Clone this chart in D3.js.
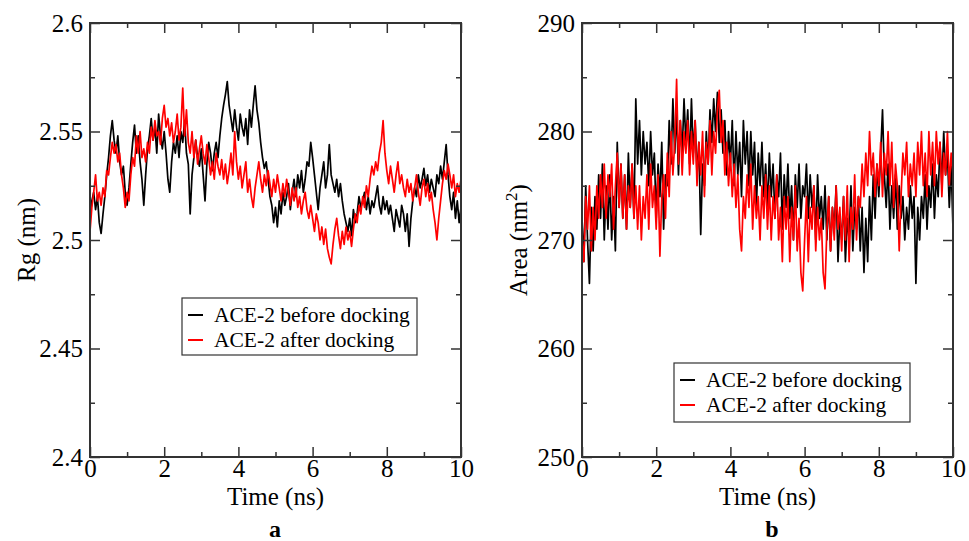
<!DOCTYPE html>
<html>
<head>
<meta charset="utf-8">
<script src="https://cdn.jsdelivr.net/npm/d3@7"></script>
<style>
  html, body { margin: 0; padding: 0; background: #fff; }
  svg { display: block; }
  text { font-family: "Liberation Serif", "Times New Roman", serif; fill: #000; }
</style>
</head>
<body>
<svg id="chart" width="969" height="541"></svg>
<script>
// ---- Data ----
const timeStep = 0.05; // ns between sampled frames
const xTicks = [0, 2, 4, 6, 8, 10];
const xMinorTicks = [1, 3, 5, 7, 9];
const rgTicks = [2.4, 2.45, 2.5, 2.55, 2.6];
const rgMinorTicks = [2.425, 2.475, 2.525, 2.575];
const areaTicks = [250, 260, 270, 280, 290];
const areaMinorTicks = [255, 265, 275, 285];
const legendLabels = ["ACE-2 before docking", "ACE-2 after docking"];
const seriesColors = ["#000000", "#ff0000"];

// Rg (nm), ACE-2 before docking
const rgBefore = [
 2.510,2.518,2.522,2.514,2.520,2.508,2.503,2.512,2.520,2.530,
 2.538,2.548,2.555,2.546,2.540,2.548,2.536,2.530,2.534,2.522,
 2.516,2.524,2.535,2.545,2.553,2.540,2.548,2.536,2.528,2.516,
 2.530,2.542,2.548,2.556,2.546,2.552,2.540,2.558,2.548,2.542,
 2.550,2.540,2.528,2.522,2.536,2.545,2.540,2.548,2.538,2.550,
 2.545,2.555,2.540,2.535,2.512,2.530,2.538,2.546,2.538,2.534,
 2.542,2.530,2.518,2.535,2.545,2.540,2.532,2.540,2.545,2.538,
 2.548,2.556,2.562,2.567,2.573,2.562,2.556,2.550,2.560,2.552,
 2.546,2.558,2.552,2.548,2.556,2.544,2.560,2.552,2.562,2.571,
 2.560,2.554,2.545,2.538,2.533,2.536,2.528,2.520,2.516,2.508,
 2.515,2.506,2.518,2.512,2.522,2.516,2.520,2.526,2.514,2.522,
 2.528,2.520,2.530,2.524,2.532,2.522,2.528,2.536,2.534,2.545,
 2.538,2.530,2.522,2.514,2.524,2.530,2.536,2.524,2.530,2.544,
 2.530,2.526,2.522,2.528,2.520,2.526,2.518,2.512,2.508,2.504,
 2.510,2.502,2.514,2.508,2.512,2.520,2.515,2.518,2.522,2.514,
 2.520,2.512,2.518,2.515,2.520,2.525,2.516,2.512,2.520,2.514,
 2.518,2.512,2.516,2.510,2.504,2.514,2.510,2.506,2.516,2.512,
 2.504,2.512,2.497,2.510,2.518,2.524,2.520,2.530,2.524,2.528,
 2.533,2.525,2.530,2.522,2.528,2.524,2.520,2.530,2.526,2.534,
 2.528,2.536,2.544,2.530,2.520,2.514,2.522,2.510,2.518,2.508,
 2.515
];
// Rg (nm), ACE-2 after docking
const rgAfter = [
 2.504,2.515,2.522,2.530,2.518,2.522,2.516,2.524,2.520,2.532,
 2.530,2.538,2.545,2.540,2.544,2.536,2.540,2.530,2.524,2.515,
 2.522,2.518,2.530,2.538,2.534,2.548,2.540,2.550,2.538,2.542,
 2.536,2.545,2.540,2.552,2.546,2.555,2.548,2.550,2.544,2.556,
 2.562,2.552,2.556,2.548,2.554,2.545,2.550,2.558,2.546,2.552,
 2.570,2.548,2.560,2.545,2.540,2.550,2.538,2.546,2.535,2.542,
 2.548,2.540,2.535,2.544,2.538,2.530,2.536,2.528,2.540,2.534,
 2.530,2.537,2.528,2.535,2.526,2.532,2.540,2.530,2.550,2.536,
 2.528,2.534,2.524,2.530,2.536,2.522,2.528,2.520,2.515,2.524,
 2.530,2.536,2.528,2.522,2.530,2.525,2.532,2.526,2.520,2.528,
 2.522,2.530,2.524,2.518,2.526,2.520,2.528,2.522,2.516,2.524,
 2.518,2.524,2.515,2.520,2.512,2.518,2.522,2.514,2.510,2.516,
 2.510,2.504,2.512,2.508,2.500,2.506,2.498,2.505,2.496,2.492,
 2.489,2.498,2.505,2.510,2.502,2.496,2.504,2.498,2.506,2.500,
 2.504,2.497,2.505,2.512,2.508,2.516,2.512,2.520,2.515,2.525,
 2.520,2.528,2.534,2.530,2.536,2.532,2.540,2.545,2.555,2.540,
 2.532,2.526,2.534,2.528,2.522,2.530,2.536,2.526,2.530,2.524,
 2.520,2.528,2.522,2.526,2.518,2.524,2.530,2.522,2.516,2.524,
 2.528,2.520,2.526,2.518,2.522,2.514,2.508,2.500,2.510,2.518,
 2.526,2.532,2.528,2.535,2.530,2.524,2.530,2.520,2.526,2.522,
 2.528
];
// SASA area (nm^2), ACE-2 before docking
const areaBefore = [
 272,268,275,270,266,273,269,274,271,276,
 272,277,270,275,271,276,270,274,269,279,
 273,277,272,276,271,278,273,277,272,283,
 277,281,276,280,277,279,275,280,276,278,
 272,277,274,279,271,276,275,281,277,283,
 278,282,276,281,278,283,279,282,277,283,
 278,281,276,279,270.5,277,275,280,277,282,
 279,283,280,283.6,279,282,278,281,276,280,
 277,281,275,280,276,279,274,281,277,280,
 275,280,276,279,273,278,275,279,274,277,
 273,278,274,277,272,276,274,278,271,276,
 273,277,272,275,270,276,273,277,272,275,
 274,277,272,276,273,275,270,276,272,274,
 271,275,270,274,269,273,271,275,268,272,
 270,274,268,272,270,275,269,273,271,274,
 269,273,267,272,268,274,270,276,272,277,
 274,278,282,276,273,277,271,275,272,276,
 271,275,272,274,270,273,271,275,272,274,
 266,273,270,274,272,276,271,275,273,277,
 272,276,274,279,275,280,276,278,273,277,
 271
];
// SASA area (nm^2), ACE-2 after docking
const areaAfter = [
 270,268,274,271,275,269,273,270,275,272,
 276,273,277,272,276,274,277,271,275,278,
 273,277,272,276,271,275,273,277,272,275,
 271,275,270,274,272,276,271,277,273,275,
 271,276,268.5,274,276,272,278,274,280,276,
 279,284.8,277,281,276,280,278,281,276,280,
 277,281,275,279,276,280,274,279,277,281,
 276,280,278,282,283.8,279,281,276,279,275,
 278,274,277,273,276,271,269,274,272,276,
 273,277,271,275,272,274,270,275,272,276,
 271,275,270,274,272,276,270,273,268,274,
 271,274,268,273,270,275,269,272,267,265.3,
 270,274,268,273,271,275,269,273,270,272,
 267,265.5,271,274,269,273,270,275,271,273,
 269,274,270,275,268,273,271,276,270,274,
 273,277,274,278,275,280,276,278,274,277,
 275,279,274,278,276,280,275,279,273,277,
 275,269,274,278,276,279,274,277,275,278,
 274,279,276,280,275,278,274,280,276,279,
 275,280,277,279,274,278,276,280,275,278,
 276
];

// ---- Drawing ----
const svg = d3.select("#chart");
const AXIS_COLOR = "#333";
const FONT = '"Liberation Serif", "Times New Roman", serif';

function drawPanel(cfg) {
  const x = d3.scaleLinear().domain([xTicks[0], xTicks[xTicks.length - 1]]).range([cfg.x0, cfg.x1]);
  const y = d3.scaleLinear().domain([cfg.yTicks[0], cfg.yTicks[cfg.yTicks.length - 1]]).range([cfg.y1, cfg.y0]);
  const g = svg.append("g");

  const clipId = "clip-" + cfg.id;
  svg.append("clipPath").attr("id", clipId)
    .append("rect").attr("x", cfg.x0).attr("y", cfg.y0)
    .attr("width", cfg.x1 - cfg.x0).attr("height", cfg.y1 - cfg.y0);

  const line = d3.line().x((d, i) => x(i * timeStep)).y(d => y(d));
  const series = [cfg.before, cfg.after];
  g.append("g").attr("clip-path", `url(#${clipId})`)
    .selectAll("path").data(series).join("path")
    .attr("d", line)
    .attr("fill", "none")
    .attr("stroke", (d, i) => seriesColors[i])
    .attr("stroke-width", 1.7)
    .attr("stroke-linejoin", "round");

  function styleAxis(sel, showLabels) {
    sel.attr("font-family", null);
    sel.select(".domain").remove();
    sel.selectAll(".tick line").attr("stroke", AXIS_COLOR).attr("stroke-width", 1.5);
    sel.selectAll(".tick text")
      .style("font-family", FONT)
      .style("font-size", "25px").attr("fill", "#000");
    if (!showLabels) sel.selectAll(".tick text").remove();
  }
  const MAJ = 10, MIN = 5;
  // bottom
  g.append("g").attr("transform", `translate(0,${cfg.y1})`)
    .call(d3.axisBottom(x).tickValues(xTicks).tickFormat(d => d).tickSize(-MAJ).tickPadding(2))
    .call(s => styleAxis(s, true));
  g.append("g").attr("transform", `translate(0,${cfg.y1})`)
    .call(d3.axisBottom(x).tickValues(xMinorTicks).tickSize(-MIN))
    .call(s => styleAxis(s, false));
  // top
  g.append("g").attr("transform", `translate(0,${cfg.y0})`)
    .call(d3.axisTop(x).tickValues(xTicks).tickSize(-MAJ))
    .call(s => styleAxis(s, false));
  g.append("g").attr("transform", `translate(0,${cfg.y0})`)
    .call(d3.axisTop(x).tickValues(xMinorTicks).tickSize(-MIN))
    .call(s => styleAxis(s, false));
  // left
  g.append("g").attr("transform", `translate(${cfg.x0},0)`)
    .call(d3.axisLeft(y).tickValues(cfg.yTicks).tickFormat(d => d).tickSize(-MAJ).tickPadding(7))
    .call(s => styleAxis(s, true));
  g.append("g").attr("transform", `translate(${cfg.x0},0)`)
    .call(d3.axisLeft(y).tickValues(cfg.yMinor).tickSize(-MIN))
    .call(s => styleAxis(s, false));
  // right
  g.append("g").attr("transform", `translate(${cfg.x1},0)`)
    .call(d3.axisRight(y).tickValues(cfg.yTicks).tickSize(-MAJ))
    .call(s => styleAxis(s, false));
  g.append("g").attr("transform", `translate(${cfg.x1},0)`)
    .call(d3.axisRight(y).tickValues(cfg.yMinor).tickSize(-MIN))
    .call(s => styleAxis(s, false));

  // frame
  g.append("rect").attr("x", cfg.x0).attr("y", cfg.y0)
    .attr("width", cfg.x1 - cfg.x0).attr("height", cfg.y1 - cfg.y0)
    .attr("fill", "none").attr("stroke", AXIS_COLOR).attr("stroke-width", 2);

  // x axis title
  g.append("text").attr("x", (cfg.x0 + cfg.x1) / 2).attr("y", cfg.y1 + 48)
    .attr("text-anchor", "middle").style("font-size", "25px").text("Time (ns)");
  // y axis title
  const yt = g.append("text")
    .attr("transform", `translate(${cfg.yLabelX},${(cfg.y0 + cfg.y1) / 2}) rotate(-90)`)
    .attr("text-anchor", "middle").style("font-size", "25px");
  yt.append("tspan").text(cfg.yLabel);
  if (cfg.yLabelSup) {
    yt.append("tspan").attr("dy", -10).style("font-size", "17px").text(cfg.yLabelSup);
    yt.append("tspan").attr("dy", 10).text(")");
  }
  // panel letter
  g.append("text").attr("x", cfg.letterX).attr("y", 537)
    .attr("text-anchor", "middle").style("font-size", "24px").style("font-weight", "bold")
    .text(cfg.letter);

  // legend
  const L = cfg.legend;
  const lg = g.append("g");
  lg.append("rect").attr("x", L.x).attr("y", L.y).attr("width", L.w).attr("height", L.h)
    .attr("fill", "#fff").attr("stroke", AXIS_COLOR).attr("stroke-width", 1.2);
  legendLabels.forEach((lab, i) => {
    const cy = L.y + 17 + i * 25;
    lg.append("line").attr("x1", L.x + 6).attr("x2", L.x + 21)
      .attr("y1", cy).attr("y2", cy)
      .attr("stroke", seriesColors[i]).attr("stroke-width", 2);
    lg.append("text").attr("x", L.x + 32).attr("y", cy + 7)
      .style("font-size", "21.5px").text(lab);
  });
}

drawPanel({
  id: "a", x0: 90, x1: 461, y0: 23, y1: 457,
  yTicks: rgTicks, yMinor: rgMinorTicks,
  before: rgBefore, after: rgAfter,
  yLabel: "Rg (nm)", yLabelX: 35, letter: "a", letterX: 275,
  legend: { x: 182, y: 298, w: 235, h: 57 }
});
drawPanel({
  id: "b", x0: 582, x1: 953, y0: 23, y1: 457,
  yTicks: areaTicks, yMinor: areaMinorTicks,
  before: areaBefore, after: areaAfter,
  yLabel: "Area (nm", yLabelSup: "2", yLabelX: 527, letter: "b", letterX: 772,
  legend: { x: 674, y: 363, w: 236, h: 59 }
});
</script>
</body>
</html>
